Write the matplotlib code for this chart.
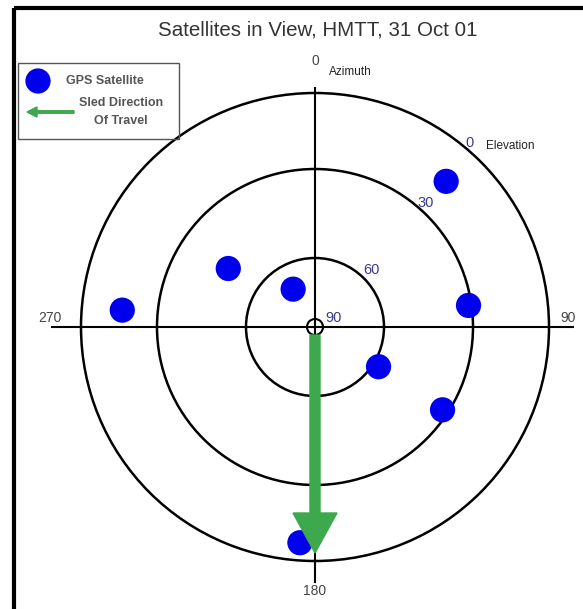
import numpy as np
import matplotlib
matplotlib.use("Agg")
import matplotlib.pyplot as plt
from matplotlib.patches import Circle, Rectangle, FancyArrow

# ---- data ----
title = "Satellites in View, HMTT, 31 Oct 01"
sat_azimuth = [42, 304, 330, 275, 82, 122, 123, 184]     # degrees clockwise from north
sat_elevation = [15, 48, 71, 16, 31, 58, 32, 7]          # degrees
ring_elevations = [0, 30, 60]
elev_labels = ["0", "30", "60", "90"]
azimuth_labels = ["0", "90", "180", "270"]
travel_azimuth = 180

# elevation -> pixel radius scale (as drawn in the original, non-linear)
scale_el = [0, 30, 60, 90]
scale_r = [234, 158, 69, 0]

def radius(el):
    return np.interp(el, scale_el, scale_r)

cx, cy = 315, 327

plt.rcParams['font.family'] = ['Liberation Sans', 'DejaVu Sans']
fig = plt.figure(figsize=(5.83, 6.09), dpi=100)
ax = fig.add_axes([0, 0, 1, 1])
ax.set_xlim(0, 583)
ax.set_ylim(609, 0)
ax.axis("off")

# outer frame
ax.add_patch(Rectangle((14, 7.5), 600, 620, fill=False, ec="black", lw=3, zorder=1))

# title
ax.text(318, 30, title, ha="center", va="center", fontsize=14.8, color="#333333")

# rings
for el in ring_elevations:
    ax.add_patch(Circle((cx, cy), radius(el), fill=False, ec="black", lw=1.8, zorder=2))
ax.add_patch(Circle((cx, cy), 8, fill=False, ec="black", lw=1.5, zorder=2))

# axes cross
ax.plot([cx, cx], [88, 582], color="black", lw=1.5, zorder=2)
ax.plot([52, 573], [cy, cy], color="black", lw=1.5, zorder=2)

# azimuth labels
ax.text(cx, 61, azimuth_labels[0], ha="center", va="center", fontsize=10, color="#444444")
ax.text(329, 72, "Azimuth", ha="left", va="center", fontsize=8.5, color="#222222")
ax.text(568, 318, azimuth_labels[1], ha="center", va="center", fontsize=10, color="#444444")
ax.text(cx, 591, azimuth_labels[2], ha="center", va="center", fontsize=10, color="#444444")
ax.text(50, 318, azimuth_labels[3], ha="center", va="center", fontsize=10, color="#444444")

# elevation labels
elev_pos = [(469, 143), (426, 203), (371, 270), (334, 318)]
for lab, (x, y) in zip(elev_labels, elev_pos):
    ax.text(x, y, lab, ha="center", va="center", fontsize=10.5, color="#3a3a8c")
ax.text(486, 146, "Elevation", ha="left", va="center", fontsize=8.5, color="#222222")

# satellites
az = np.deg2rad(sat_azimuth)
r = radius(np.array(sat_elevation, dtype=float))
sx = cx + r * np.sin(az)
sy = cy - r * np.cos(az)
ax.scatter(sx, sy, s=330, color="#0000ee", edgecolors="none", zorder=3)

# sled direction arrow
green = "#3da84c"
ta = np.deg2rad(travel_azimuth)
L = 226
ax.add_patch(FancyArrow(cx, cy + 8, L * np.sin(ta), -(L - 8) * np.cos(ta), width=10,
                        head_width=44, head_length=40, length_includes_head=True,
                        color=green, zorder=4))

# legend
ax.add_patch(Rectangle((18, 63), 161, 76, fill=False, ec="#555555", lw=1.0, zorder=2))
ax.scatter([38], [81], s=330, color="#0000ee", edgecolors="none", zorder=3)
ax.text(66, 81, "GPS Satellite", ha="left", va="center", fontsize=9,
        fontweight="bold", color="#555555")
ax.add_patch(FancyArrow(74, 112, -47, 0, width=2.5, head_width=10, head_length=10,
                        length_includes_head=True, color=green, zorder=3))
ax.text(121, 103, "Sled Direction", ha="center", va="center", fontsize=9,
        fontweight="bold", color="#555555")
ax.text(121, 121, "Of Travel", ha="center", va="center", fontsize=9,
        fontweight="bold", color="#555555")

fig.savefig("out.png", dpi=100)
